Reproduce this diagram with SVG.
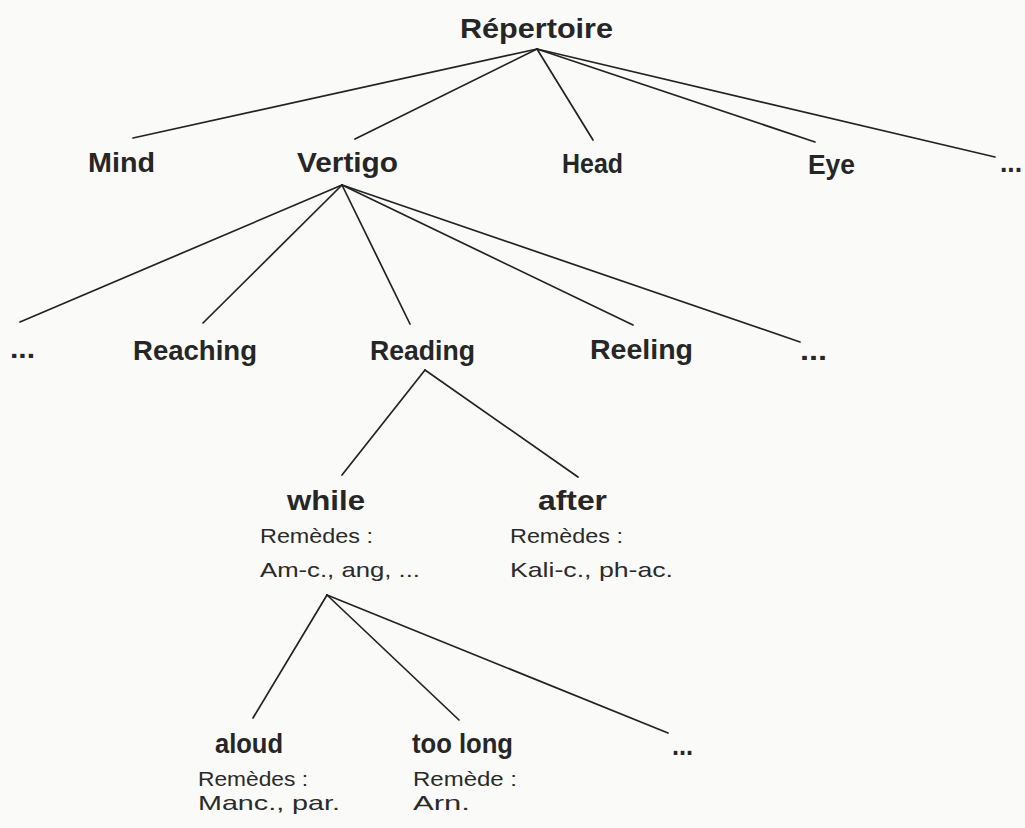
<svg xmlns="http://www.w3.org/2000/svg" width="1025" height="828" viewBox="0 0 1025 828">
  <style>
    .bg { fill: #fafaf8; }
    .lbl { font-family: "Liberation Sans", "DejaVu Sans", sans-serif; font-weight: bold; font-size: 28px; fill: #262626; }
    .sm { font-family: "Liberation Sans", "DejaVu Sans", sans-serif; font-size: 21px; fill: #2a2a2a; }
    .edge { stroke: #222; stroke-width: 1.7; fill: none; stroke-linecap: round; }
  </style>
  <rect class="bg" x="0" y="0" width="1025" height="828"/>

  <!-- connectors -->
  <g id="connectors">
    <!-- Répertoire to chapters -->
    <line class="edge" x1="537" y1="49" x2="133" y2="138"/>
    <line class="edge" x1="537" y1="49" x2="355" y2="139"/>
    <line class="edge" x1="537" y1="49" x2="593" y2="140"/>
    <line class="edge" x1="537" y1="49" x2="815" y2="142"/>
    <line class="edge" x1="537" y1="49" x2="995" y2="157"/>
    <!-- Vertigo to rubrics -->
    <line class="edge" x1="342" y1="185" x2="20" y2="322"/>
    <line class="edge" x1="342" y1="185" x2="203" y2="323"/>
    <line class="edge" x1="342" y1="185" x2="410" y2="324"/>
    <line class="edge" x1="342" y1="185" x2="633" y2="325"/>
    <line class="edge" x1="342" y1="185" x2="800" y2="342"/>
    <!-- Reading to sub-rubrics -->
    <line class="edge" x1="425" y1="370" x2="342" y2="475"/>
    <line class="edge" x1="425" y1="370" x2="578" y2="477"/>
    <!-- while to sub-rubrics -->
    <line class="edge" x1="327" y1="595" x2="253" y2="718"/>
    <line class="edge" x1="327" y1="595" x2="459" y2="720"/>
    <line class="edge" x1="327" y1="595" x2="668" y2="733"/>
  </g>

  <g id="repertoire"><text class="lbl" x="460" y="38" textLength="153" lengthAdjust="spacingAndGlyphs">Répertoire</text></g>

  <g id="mind"><text class="lbl" x="88" y="172" textLength="67" lengthAdjust="spacingAndGlyphs">Mind</text></g>
  <g id="vertigo"><text class="lbl" x="297" y="172" textLength="101" lengthAdjust="spacingAndGlyphs">Vertigo</text></g>
  <g id="head"><text class="lbl" x="562" y="173" textLength="61" lengthAdjust="spacingAndGlyphs">Head</text></g>
  <g id="eye"><text class="lbl" x="808" y="174" textLength="47" lengthAdjust="spacingAndGlyphs">Eye</text></g>
  <g id="more-chapters"><text class="lbl" x="1000" y="172" textLength="22" lengthAdjust="spacingAndGlyphs">...</text></g>

  <g id="more-rubrics-left"><text class="lbl" x="10" y="358" textLength="25" lengthAdjust="spacingAndGlyphs">...</text></g>
  <g id="reaching"><text class="lbl" x="133" y="360" textLength="124" lengthAdjust="spacingAndGlyphs">Reaching</text></g>
  <g id="reading"><text class="lbl" x="370" y="360" textLength="105" lengthAdjust="spacingAndGlyphs">Reading</text></g>
  <g id="reeling"><text class="lbl" x="590" y="359" textLength="103" lengthAdjust="spacingAndGlyphs">Reeling</text></g>
  <g id="more-rubrics-right"><text class="lbl" x="800" y="360" textLength="27" lengthAdjust="spacingAndGlyphs">...</text></g>

  <g id="while">
    <text class="lbl" x="287" y="510" textLength="78" lengthAdjust="spacingAndGlyphs">while</text>
    <text class="sm" x="260" y="543" textLength="113" lengthAdjust="spacingAndGlyphs">Remèdes :</text>
    <text class="sm" x="260" y="577" textLength="160" lengthAdjust="spacingAndGlyphs">Am-c., ang, ...</text>
  </g>
  <g id="after">
    <text class="lbl" x="538" y="510" textLength="69" lengthAdjust="spacingAndGlyphs">after</text>
    <text class="sm" x="510" y="543" textLength="113" lengthAdjust="spacingAndGlyphs">Remèdes :</text>
    <text class="sm" x="510" y="577" textLength="163" lengthAdjust="spacingAndGlyphs">Kali-c., ph-ac.</text>
  </g>

  <g id="aloud">
    <text class="lbl" x="215" y="753" textLength="68" lengthAdjust="spacingAndGlyphs">aloud</text>
    <text class="sm" x="198" y="786" textLength="110" lengthAdjust="spacingAndGlyphs">Remèdes :</text>
    <text class="sm" x="198" y="810" textLength="142" lengthAdjust="spacingAndGlyphs">Manc., par.</text>
  </g>
  <g id="too-long">
    <text class="lbl" x="412" y="753" textLength="101" lengthAdjust="spacingAndGlyphs">too long</text>
    <text class="sm" x="413" y="786" textLength="104" lengthAdjust="spacingAndGlyphs">Remède :</text>
    <text class="sm" x="413" y="810" textLength="57" lengthAdjust="spacingAndGlyphs">Arn.</text>
  </g>
  <g id="more-while"><text class="lbl" x="672" y="755" textLength="21" lengthAdjust="spacingAndGlyphs">...</text></g>
</svg>
